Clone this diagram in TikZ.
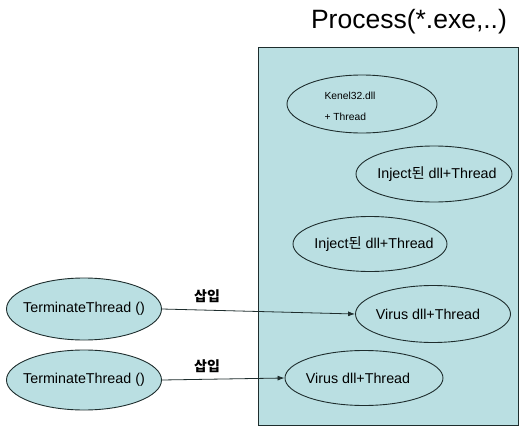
\documentclass[tikz,border=0pt]{standalone}
\usepackage{fontspec}
\setmainfont{Liberation Sans}
\newfontfamily\kr{Noto Sans CJK KR}
\usetikzlibrary{shapes.geometric,arrows.meta}
\definecolor{fillc}{RGB}{186,223,226}
\definecolor{linec}{RGB}{30,45,45}
\newcommand{\zb}[2]{\makebox[0pt][c]{\hspace*{#1}#2}}
\tikzset{
  ell/.style={ellipse, draw=linec, line width=0.9pt, fill=fillc, inner sep=0pt, font=\fontsize{14.3}{16}\selectfont},
  conn/.style={draw=linec, line width=0.8pt, -{Latex[length=7pt,width=5pt]}},
  lbl/.style={font=\kr\fontsize{14}{16}\selectfont\bfseries}
}
\begin{document}
\begin{tikzpicture}[x=1pt,y=-1pt]
\useasboundingbox (0,0) rectangle (523,434);
\node[draw=linec, line width=0.8pt, fill=fillc, minimum width=260pt, minimum height=378pt, anchor=north west, inner sep=0pt] (proc) at (258,47) {};
\node[font=\fontsize{26.5}{28}\selectfont] (title) at (409,22) {Process(*.exe,..)};
\node[ell, minimum width=150pt, minimum height=58pt, font=\fontsize{10.3}{12}\selectfont] (k32) at (362,104) {\zb{0pt}{\raisebox{-6.5pt}[0pt][0pt]{\begin{tabular}{@{}l@{}}Kenel32.dll\hspace*{24pt}\\[9pt]+ Thread\end{tabular}}}};
\node[ell, minimum width=156pt, minimum height=56pt] (inj1) at (434,174) {\zb{6pt}{Inject{\kr 된} dll+Thread}};
\node[ell, minimum width=154pt, minimum height=55pt] (inj2) at (370,244) {\zb{8pt}{Inject{\kr 된} dll+Thread}};
\node[ell, minimum width=155pt, minimum height=57pt] (vir1) at (433,314) {\zb{-10pt}{Virus dll+Thread}};
\node[ell, minimum width=158pt, minimum height=55pt] (vir2) at (364,378) {\zb{-12pt}{Virus dll+Thread}};
\node[ell, minimum width=155pt, minimum height=62pt] (term1) at (84,309) {\zb{0pt}{TerminateThread ()}};
\node[ell, minimum width=155pt, minimum height=60pt] (term2) at (84,380) {\zb{0pt}{TerminateThread ()}};
\node[lbl] (ins1) at (207,296) {삽입};
\node[lbl] (ins2) at (207,366) {삽입};
\draw[conn] (term1.east) -- (vir1.west);
\draw[conn] (term2.east) -- (vir2.west);
\end{tikzpicture}
\end{document}
